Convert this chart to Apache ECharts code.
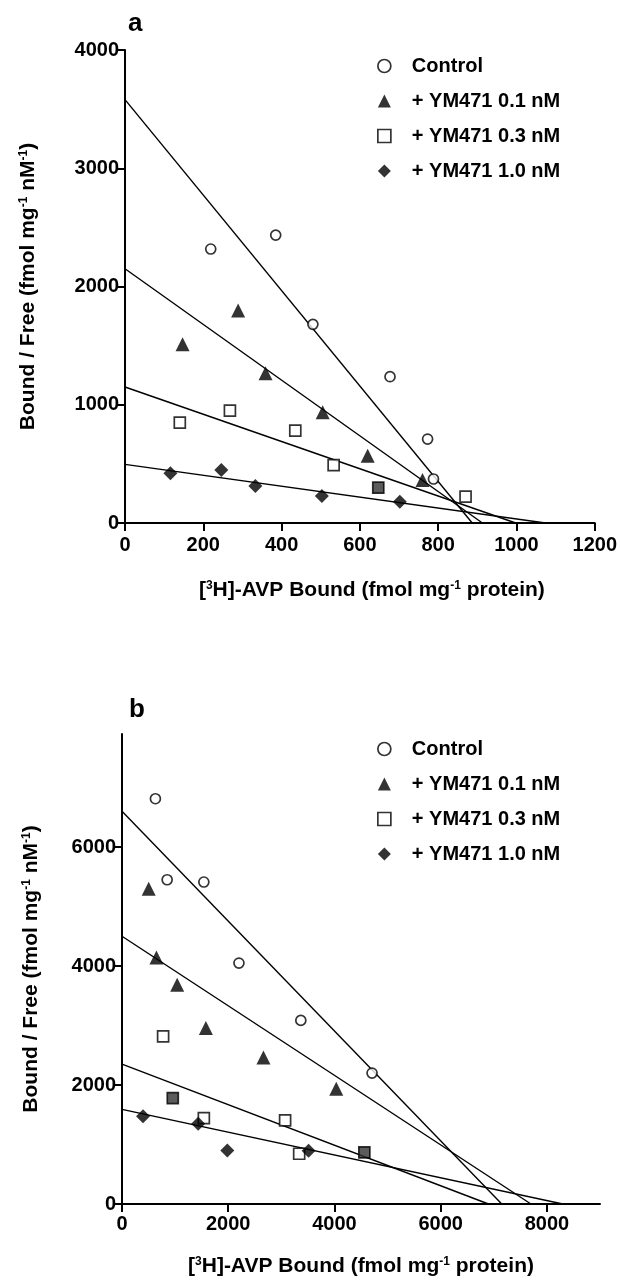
<!DOCTYPE html>
<html>
<head>
<meta charset="utf-8">
<script src="https://cdn.jsdelivr.net/npm/echarts@6/dist/echarts.min.js"></script>
<style>html,body{margin:0;padding:0;background:#fff;}#chart{width:620px;height:1280px;}</style>
</head>
<body>
<div id="chart"></div>
<script>
// ---------- Data ----------
const seriesNames = ['Control', '+ YM471 0.1 nM', '+ YM471 0.3 nM', '+ YM471 1.0 nM'];

// Panel a
const aControl = [[219,2317],[385,2435],[480,1680],[677,1237],[773,710],[788,372]];
const aYM01 = [[147,1511],[289,1797],[359,1266],[505,936],[620,569],[760,364]];
const aYM03 = [[140,848],[268,950],[435,781],[533,490],[647,299],[870,223]];
const aYM03Dark = [4];
const aYM10 = [[116,420],[246,448],[333,313],[503,228],[702,180]];
const aYIntercept = [3580, 2150, 1150, 496];
const aXIntercept = [887, 913, 998, 1074];
const aXTicks = [0, 200, 400, 600, 800, 1000, 1200];
const aYTicks = [0, 1000, 2000, 3000, 4000];

// Panel b
const bControl = [[629,6812],[850,5450],[1541,5412],[2202,4050],[3367,3086],[4708,2201]];
const bYM01 = [[503,5300],[648,4145],[1039,3686],[1579,2958],[2663,2464],[4034,1938]];
const bYM03 = [[774,2817],[956,1781],[1541,1445],[3071,1405],[3336,845],[4563,867]];
const bYM03Dark = [1, 5];
const bYM10 = [[396,1473],[1435,1350],[1983,901],[3513,896]];
const bYIntercept = [6600, 4500, 2350, 1590];
const bXIntercept = [7150, 7700, 6900, 8300];
const bXTicks = [0, 2000, 4000, 6000, 8000];
const bYTicks = [0, 2000, 4000, 6000];

// ---------- Chart ----------
const FONT = '"Liberation Sans", Arial, Helvetica, sans-serif';
const chart = echarts.init(document.getElementById('chart'), null, {renderer: 'canvas'});

const markerStyles = [
  {symbol: 'circle', symbolSize: 10, itemStyle: {color: '#fff', borderColor: '#000', borderWidth: 1.7}},
  {symbol: 'triangle', symbolSize: 14, itemStyle: {color: '#000', borderColor: '#000', borderWidth: 0}},
  {symbol: 'rect', symbolSize: 11, itemStyle: {color: '#fff', borderColor: '#000', borderWidth: 1.7}},
  {symbol: 'diamond', symbolSize: 14, itemStyle: {color: '#000', borderColor: '#000', borderWidth: 0}}
];

function pts(arr, dark) {
  return arr.map((p, i) => (dark && dark.indexOf(i) >= 0)
    ? {value: p, itemStyle: {color: '#333', borderColor: '#000'}}
    : {value: p});
}

function scatterSeries(idx, data, dark, axisIdx) {
  const m = markerStyles[idx];
  return {
    type: 'scatter', name: seriesNames[idx],
    xAxisIndex: axisIdx, yAxisIndex: axisIdx,
    symbol: m.symbol, symbolSize: m.symbolSize, itemStyle: m.itemStyle,
    data: pts(data, dark), z: 5
  };
}

function fitSeries(yInt, xInt, axisIdx, k) {
  return {
    type: 'line', name: 'fit' + axisIdx + '_' + k,
    xAxisIndex: axisIdx, yAxisIndex: axisIdx,
    data: [[0, yInt], [xInt, 0]], symbol: 'none', silent: true,
    lineStyle: {color: '#000', width: 1.4}, z: 3
  };
}

const plain = v => String(v);
const axisLine = {show: true, onZero: false, lineStyle: {color: '#000', width: 2}};
const axisLabelStyle = {color: '#000', fontFamily: FONT, fontWeight: 'bold', fontSize: 20, formatter: plain};
const richSup = {sup: {fontFamily: FONT, fontWeight: 'bold', fontSize: 12, color: '#000', verticalAlign: 'top', padding: [0, 0, 8, 0]}};
const nameStyle = {color: '#000', fontFamily: FONT, fontWeight: 'bold', fontSize: 21, rich: richSup};

function legendFor(top) {
  return {
    orient: 'vertical', left: 372, top: top,
    data: [
      {name: seriesNames[0], icon: 'circle', itemStyle: {color: '#fff', borderColor: '#000', borderWidth: 1.7}},
      {name: seriesNames[1], icon: 'triangle'},
      {name: seriesNames[2], icon: 'rect', itemStyle: {color: '#fff', borderColor: '#000', borderWidth: 1.7}},
      {name: seriesNames[3], icon: 'diamond'}
    ],
    itemWidth: 13, itemHeight: 13, itemGap: 15,
    textStyle: {color: '#000', fontFamily: FONT, fontWeight: 'bold', fontSize: 20, lineHeight: 20, padding: [0, 0, 0, 16]},
    selectedMode: false
  };
}

const option = {
  backgroundColor: '#fff',
  animation: false,
  title: [
    {text: 'a', left: 123, top: 6, textStyle: {fontFamily: FONT, fontWeight: 'bold', fontSize: 26, color: '#000'}},
    {text: 'b', left: 124, top: 692, textStyle: {fontFamily: FONT, fontWeight: 'bold', fontSize: 26, color: '#000'}}
  ],
  legend: [legendFor(51), legendFor(734)],
  grid: [
    {left: 125, top: 50, width: 471, height: 473, containLabel: false},
    {left: 122, top: 734, width: 478, height: 470, containLabel: false}
  ],
  xAxis: [
    {
      type: 'value', gridIndex: 0, min: 0, max: 1200, interval: 200,
      axisLine: axisLine, splitLine: {show: false},
      axisTick: {show: true, length: 8, lineStyle: {color: '#000', width: 2}},
      axisLabel: Object.assign({margin: 12, customValues: aXTicks}, axisLabelStyle),
      name: '[{sup|3}H]-AVP Bound (fmol mg{sup|-1} protein)',
      nameLocation: 'middle', nameGap: 57,
      nameTextStyle: Object.assign({padding: [0, 0, 0, 24]}, nameStyle)
    },
    {
      type: 'value', gridIndex: 1, min: 0, max: 9000, interval: 1000,
      axisLine: axisLine, splitLine: {show: false},
      axisTick: {show: true, length: 8, lineStyle: {color: '#000', width: 2}, customValues: bXTicks},
      axisLabel: Object.assign({margin: 10, customValues: bXTicks}, axisLabelStyle),
      name: '[{sup|3}H]-AVP Bound (fmol mg{sup|-1} protein)',
      nameLocation: 'middle', nameGap: 52,
      nameTextStyle: nameStyle
    }
  ],
  yAxis: [
    {
      type: 'value', gridIndex: 0, min: 0, max: 4000, interval: 1000,
      axisLine: axisLine, splitLine: {show: false},
      axisTick: {show: true, length: 8, lineStyle: {color: '#000', width: 2}},
      axisLabel: Object.assign({margin: 6, customValues: aYTicks}, axisLabelStyle),
      name: 'Bound / Free (fmol mg{sup|-1} nM{sup|-1})',
      nameLocation: 'middle', nameRotate: 90, nameGap: 86,
      nameTextStyle: nameStyle
    },
    {
      type: 'value', gridIndex: 1, min: 0, max: 7900, interval: 1000,
      axisLine: axisLine, splitLine: {show: false},
      axisTick: {show: true, length: 8, lineStyle: {color: '#000', width: 2}, customValues: bYTicks},
      axisLabel: Object.assign({margin: 6, customValues: bYTicks}, axisLabelStyle),
      name: 'Bound / Free (fmol mg{sup|-1} nM{sup|-1})',
      nameLocation: 'middle', nameRotate: 90, nameGap: 80,
      nameTextStyle: nameStyle
    }
  ],
  series: [
    fitSeries(aYIntercept[0], aXIntercept[0], 0, 0),
    fitSeries(aYIntercept[1], aXIntercept[1], 0, 1),
    fitSeries(aYIntercept[2], aXIntercept[2], 0, 2),
    fitSeries(aYIntercept[3], aXIntercept[3], 0, 3),
    fitSeries(bYIntercept[0], bXIntercept[0], 1, 0),
    fitSeries(bYIntercept[1], bXIntercept[1], 1, 1),
    fitSeries(bYIntercept[2], bXIntercept[2], 1, 2),
    fitSeries(bYIntercept[3], bXIntercept[3], 1, 3),
    scatterSeries(0, aControl, null, 0),
    scatterSeries(1, aYM01, null, 0),
    scatterSeries(2, aYM03, aYM03Dark, 0),
    scatterSeries(3, aYM10, null, 0),
    scatterSeries(0, bControl, null, 1),
    scatterSeries(1, bYM01, null, 1),
    scatterSeries(2, bYM03, bYM03Dark, 1),
    scatterSeries(3, bYM10, null, 1)
  ]
};
chart.setOption(option);
</script>
</body>
</html>
